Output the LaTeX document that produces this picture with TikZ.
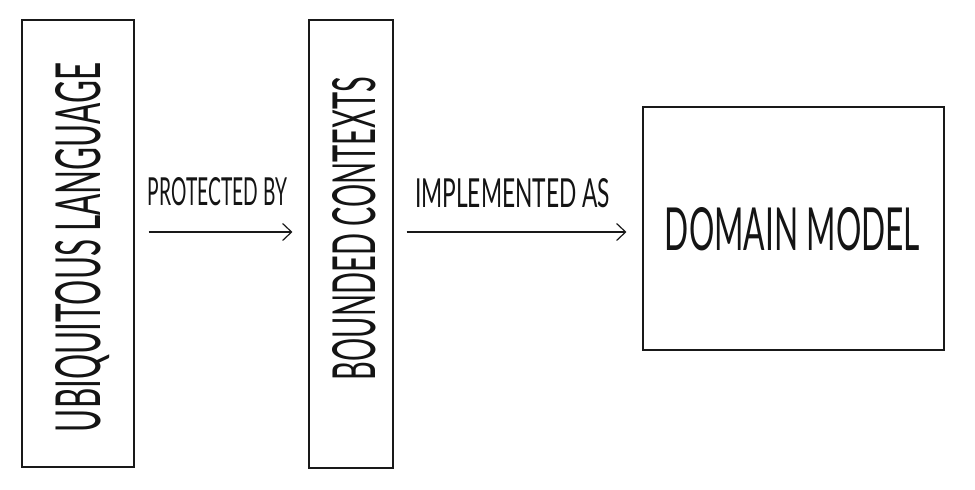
\documentclass[tikz,border=0pt]{standalone}
\usepackage{fontspec}
\setmainfont{Lato}
\usepackage{graphicx}
\usetikzlibrary{arrows.meta,calc}
\newcommand{\fitcaps}[3]{\resizebox{#1}{#2}{\raisebox{0pt}[\height][0pt]{#3}}}
\tikzset{
  box/.style={draw=black!90, line width=1.1pt, inner sep=0pt, anchor=center},
  txt/.style={inner sep=0pt, text=black!92, anchor=center},
  arr/.style={draw=black!90, line width=1.2pt, -{Straight Barb[length=9pt,width=17pt,line width=1.2pt]}},
}
\begin{document}
\begin{tikzpicture}[x=1pt,y=-1pt]
\useasboundingbox (0,0) rectangle (975,490);
% boxes
\node[box, minimum width=112pt, minimum height=447pt] (ubiq) at (78,243.5) {};
\node[box, minimum width=84pt, minimum height=448pt] (bc) at (351,244) {};
\node[box, minimum width=301pt, minimum height=243pt] (dm) at (793.5,228.5) {};
% texts
\node[txt, rotate=90] (ubiqt) at (77.5,247.5) {\fitcaps{369pt}{45pt}{UBIQUITOUS LANGUAGE}};
\node[txt, rotate=90] (bct) at (353.5,228.5) {\fitcaps{303pt}{43pt}{BOUNDED CONTEXTS}};
\node[txt] (dmt) at (792.5,228.5) {\fitcaps{255pt}{43pt}{DOMAIN MODEL}};
% connectors
\coordinate (ya) at (0,232);
\draw[arr, shorten <=14pt, shorten >=16pt] (ubiq.east |- ya) -- (bc.west |- ya);
\draw[arr, shorten <=13pt, shorten >=16pt] (bc.east |- ya) -- (dm.west |- ya);
% labels
\node[txt] (l1) at (217.5,191) {\fitcaps{139pt}{28pt}{PROTECTED BY}};
\node[txt] (l2) at (512.5,192.5) {\fitcaps{195pt}{29pt}{IMPLEMENTED AS}};
\end{tikzpicture}
\end{document}
